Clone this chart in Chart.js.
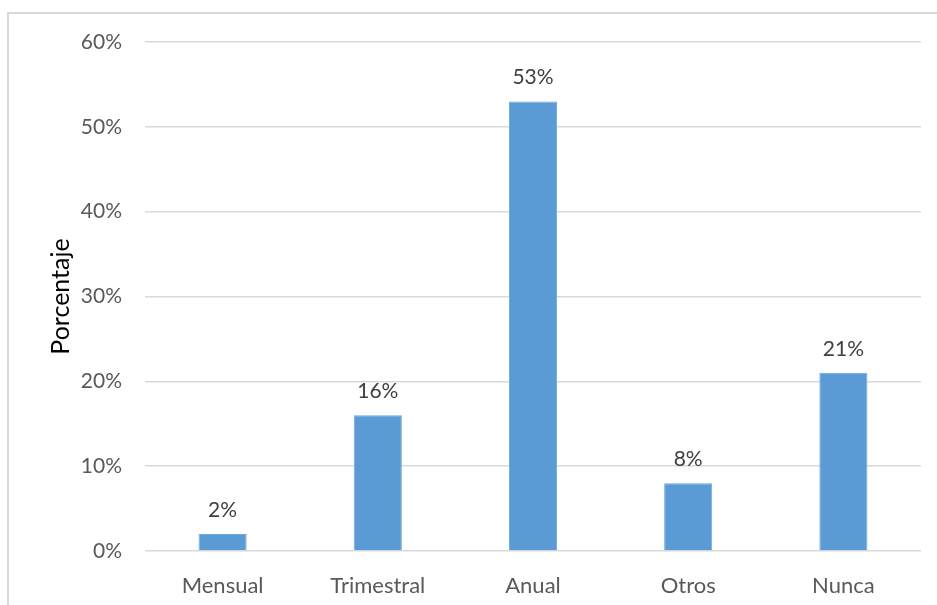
<!DOCTYPE html>
<html>
<head>
<meta charset="utf-8">
<script src="https://cdn.jsdelivr.net/npm/chart.js@4.4.1/dist/chart.umd.min.js"></script>
<style>
  html, body { margin: 0; padding: 0; background: #fff; overflow: hidden; }
  .frame {
    position: absolute; left: 7px; top: 12px;
    width: 1000px; height: 700px;
    border: 2px solid #d9d9d9;
  }
  .chart-box { position: absolute; left: 0; top: 0; width: 937px; height: 605px; }
</style>
</head>
<body>
<div class="frame"></div>
<div class="chart-box"><canvas id="freqChart"></canvas></div>
<script>
const categories = ['Mensual', 'Trimestral', 'Anual', 'Otros', 'Nunca'];
const percentages = [2, 16, 53, 8, 21];
const yTicks = [0, 10, 20, 30, 40, 50, 60];

const FONT = "Lato, sans-serif";
const TEXT = '#595959';

// value labels above each bar
const barLabels = {
    id: 'barLabels',
    afterDatasetsDraw(chart) {
        const ctx = chart.ctx;
        const meta = chart.getDatasetMeta(0);
        ctx.save();
        ctx.font = '21px ' + FONT;
        ctx.fillStyle = '#404040';
        ctx.textAlign = 'center';
        ctx.textBaseline = 'middle';
        meta.data.forEach((bar, i) => {
            ctx.fillText(percentages[i] + '%', bar.x, bar.y - 24);
        });
        ctx.restore();
    }
};

new Chart(document.getElementById('freqChart'), {
    type: 'bar',
    data: {
        labels: categories,
        datasets: [{
            data: percentages,
            backgroundColor: '#5b9bd5',
            borderColor: '#6fa8dc',
            borderWidth: 1,
            categoryPercentage: 1,
            barPercentage: 0.31
        }]
    },
    options: {
        responsive: true,
        maintainAspectRatio: false,
        animation: false,
        layout: { padding: { top: 42, right: 16, bottom: 0, left: 0 } },
        plugins: {
            legend: { display: false },
            tooltip: { enabled: false }
        },
        scales: {
            x: {
                grid: { display: false },
                border: { display: false },
                ticks: { color: TEXT, font: { family: FONT, size: 22 }, padding: 14 },
                afterFit(scale) { scale.height = 54; }
            },
            y: {
                min: 0,
                max: 60,
                afterBuildTicks(scale) { scale.ticks = yTicks.map(v => ({ value: v })); },
                grid: { color: '#d9d9d9', lineWidth: 1.5, drawTicks: false },
                border: { display: false },
                ticks: {
                    color: TEXT,
                    font: { family: FONT, size: 21 },
                    padding: 23,
                    callback: v => v + '%'
                },
                title: {
                    display: true,
                    text: 'Porcentaje',
                    color: '#000',
                    font: { family: FONT, size: 25 },
                    padding: { top: 46, bottom: 0 }
                },
                afterFit(scale) { scale.width = 145; }
            }
        }
    },
    plugins: [barLabels]
});
</script>
</body>
</html>
